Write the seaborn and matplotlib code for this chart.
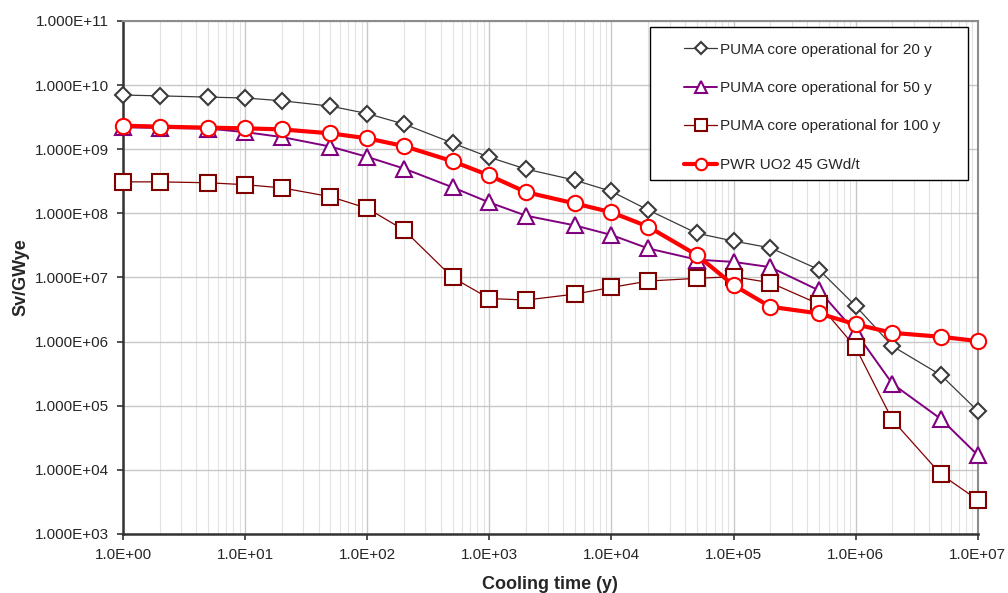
import numpy as np
import pandas as pd
import seaborn as sns
import matplotlib.pyplot as plt
from matplotlib.patches import Rectangle
from matplotlib.ticker import FuncFormatter, LogLocator, NullFormatter

# cooling time (years)
cooling_time = [1, 2, 5, 10, 20, 50, 100, 200, 500, 1e3, 2e3, 5e3, 1e4, 2e4,
                5e4, 1e5, 2e5, 5e5, 1e6, 2e6, 5e6, 1e7]

# radiotoxicity, Sv/GWye
puma_20y = [7.0e9, 6.8e9, 6.5e9, 6.3e9, 5.7e9, 4.7e9, 3.6e9, 2.47e9, 1.25e9, 7.5e8,
            4.9e8, 3.3e8, 2.2e8, 1.13e8, 4.9e7, 3.7e7, 2.9e7, 1.33e7, 3.6e6, 8.5e5,
            3.0e5, 8.3e4]
puma_50y = [2.2e9, 2.15e9, 2.1e9, 1.85e9, 1.55e9, 1.1e9, 7.6e8, 5.0e8, 2.55e8, 1.48e8,
            9.2e7, 6.5e7, 4.6e7, 2.84e7, 1.9e7, 1.75e7, 1.45e7, 6.3e6, 1.4e6, 2.2e5,
            6.2e4, 1.7e4]
puma_100y = [3.1e8, 3.1e8, 3.0e8, 2.8e8, 2.5e8, 1.82e8, 1.2e8, 5.5e7, 1.0e7, 4.7e6,
             4.45e6, 5.5e6, 7.0e6, 8.8e6, 9.7e6, 1.03e7, 8.3e6, 3.85e6, 8.1e5, 6.0e4,
             8.5e3, 3.4e3]
pwr_uo2 = [2.33e9, 2.25e9, 2.17e9, 2.12e9, 2.04e9, 1.77e9, 1.48e9, 1.12e9, 6.5e8, 3.9e8,
           2.14e8, 1.43e8, 1.04e8, 6.2e7, 2.24e7, 7.6e6, 3.5e6, 2.75e6, 1.86e6, 1.37e6,
           1.19e6, 1.02e6]

series_labels = ["PUMA core operational for 20 y", "PUMA core operational for 50 y",
                 "PUMA core operational for 100 y", "PWR UO2 45 GWd/t"]

sns.set_theme(style="white")
plt.rcParams["font.family"] = ["Liberation Sans", "DejaVu Sans"]

df = pd.DataFrame({"time": cooling_time, series_labels[0]: puma_20y,
                   series_labels[1]: puma_50y, series_labels[2]: puma_100y,
                   series_labels[3]: pwr_uo2})

fig, ax = plt.subplots(figsize=(10.08, 5.93), dpi=100)
fig.subplots_adjust(left=0.122, right=0.970, top=0.9646, bottom=0.0995)

styles = [
    dict(color="#3a3a3a", marker="D", markersize=8, linewidth=0.9),
    dict(color="#800080", marker="^", markersize=11, linewidth=1.4),
    dict(color="#800000", marker="s", markersize=11, linewidth=0.9),
    dict(color="#ff0000", marker="o", markersize=11, linewidth=3.0),
]
for label, st in zip(series_labels, styles):
    sns.lineplot(data=df, x="time", y=label, ax=ax, label=label,
                 color=st["color"], linewidth=st["linewidth"], marker=st["marker"],
                 markersize=st["markersize"], markerfacecolor="white",
                 markeredgecolor=st["color"], markeredgewidth=1.5, clip_on=False,
                 zorder=3)

ax.set_xscale("log")
ax.set_yscale("log")
ax.set_xlim(1, 1e7)
ax.set_ylim(1e3, 1e11)

ax.xaxis.set_major_locator(LogLocator(base=10, numticks=20))
ax.xaxis.set_minor_locator(LogLocator(base=10, subs=np.arange(2, 10), numticks=100))
ax.xaxis.set_minor_formatter(NullFormatter())
ax.yaxis.set_major_locator(LogLocator(base=10, numticks=20))
ax.yaxis.set_minor_locator(LogLocator(base=10, subs=[], numticks=20))
ax.xaxis.set_major_formatter(FuncFormatter(lambda v, p: f"{v:.1E}"))
ax.yaxis.set_major_formatter(FuncFormatter(lambda v, p: f"{v:.3E}"))

ax.grid(True, which="major", color="#c8c8c8", linewidth=1.0)
ax.grid(True, which="minor", axis="x", color="#e2e2e2", linewidth=0.8)
ax.set_axisbelow(True)

ax.tick_params(axis="both", which="major", direction="out", length=4, width=1.2,
               color="#333333", labelsize=11, pad=6, bottom=True, left=True)
ax.tick_params(axis="both", which="minor", length=0)

for side in ["left", "bottom"]:
    ax.spines[side].set_color("#333333")
    ax.spines[side].set_linewidth(1.8)
for side in ["top", "right"]:
    ax.spines[side].set_color("#8c8c8c")
    ax.spines[side].set_linewidth(1.5)

ax.set_xlabel("Cooling time (y)", fontsize=13, fontweight="bold", labelpad=10)
ax.set_ylabel("Sv/GWye", fontsize=13, fontweight="bold", labelpad=4)

# legend box, wider than its content as in the original
ax.add_patch(Rectangle((0.616, 0.690), 0.372, 0.298, transform=ax.transAxes,
                       facecolor="white", edgecolor="black", linewidth=1.0,
                       zorder=4, clip_on=False))
leg = ax.legend(loc="upper left", bbox_to_anchor=(0.656, 0.958), fontsize=11,
                frameon=False, labelspacing=1.6, handlelength=2.2,
                handletextpad=0.15, borderpad=0.0, borderaxespad=0.0,
                markerscale=0.75)
leg.set_zorder(5)

plt.savefig("out.png", dpi=100)
